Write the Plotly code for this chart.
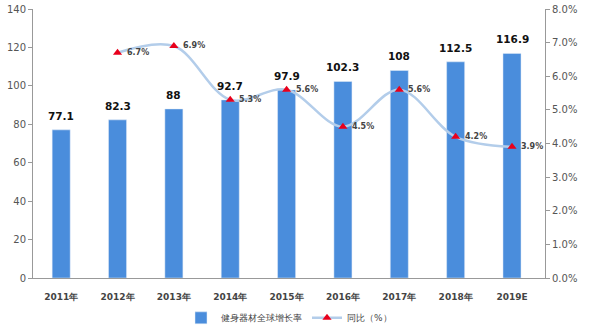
import plotly.graph_objects as go

years = ["2011年", "2012年", "2013年", "2014年", "2015年", "2016年", "2017年", "2018年", "2019E"]
market = [77.1, 82.3, 88, 92.7, 97.9, 102.3, 108, 112.5, 116.9]
growth_years = years[1:]
growth = [6.7, 6.9, 5.3, 5.6, 4.5, 5.6, 4.2, 3.9]

fig = go.Figure()

fig.add_trace(go.Bar(
    x=years, y=market, name="健身器材全球增长率",
    marker_color="#4a8ddc", width=0.32,
))

fig.add_trace(go.Scatter(
    x=growth_years, y=growth, name="同比（%）", yaxis="y2",
    mode="lines+markers",
    line=dict(color="#b3cdea", width=2.5, shape="spline", smoothing=1.0),
    marker=dict(symbol="triangle-up", size=8, color="#e8001c"),
    cliponaxis=False,
))

# value labels above each bar
for x, v in zip(years, market):
    fig.add_annotation(
        x=x, y=v, xref="x", yref="y", text=f"{v:g}", showarrow=False,
        yanchor="bottom", yshift=6,
        font=dict(size=10.5, color="#111111", family="DejaVu Sans", weight="bold"),
    )

# growth labels to the right of each marker
for x, g in zip(growth_years, growth):
    fig.add_annotation(
        x=x, y=g, xref="x", yref="y2", text=f"{g:.1f}%", showarrow=False,
        xanchor="left", xshift=7,
        font=dict(size=8, color="#444444", family="DejaVu Sans", weight="bold"),
    )

fig.update_layout(
    width=594, height=326,
    margin=dict(l=33, r=49, t=9, b=48, autoexpand=False),
    plot_bgcolor="white", paper_bgcolor="white",
    font=dict(family="DejaVu Sans", color="#555555"),
    xaxis=dict(
        showline=True, linecolor="#999999", linewidth=1,
        tickfont=dict(size=9, color="#444444", family="DejaVu Sans", weight="bold"),
        ticks="", showgrid=False, ticklabelstandoff=10,
    ),
    yaxis=dict(
        range=[0, 140], dtick=20, showline=True, linecolor="#999999",
        ticks="outside", ticklen=4, tickcolor="#999999",
        showgrid=False, zeroline=False,
        tickfont=dict(size=10, color="#555555", family="DejaVu Sans"),
    ),
    yaxis2=dict(
        range=[0, 8], dtick=1, overlaying="y", side="right",
        showline=True, linecolor="#999999",
        ticks="outside", ticklen=4, tickcolor="#999999",
        tickformat=".1f", ticksuffix="%",
        showgrid=False, zeroline=False,
        tickfont=dict(size=10, color="#555555", family="DejaVu Sans"),
    ),
    legend=dict(
        orientation="h", x=0.5, xanchor="center",
        yref="container", y=0.025, yanchor="middle",
        font=dict(size=9, color="#444444"),
        itemwidth=30,
    ),
    showlegend=True,
)

fig.write_html("out.html")
